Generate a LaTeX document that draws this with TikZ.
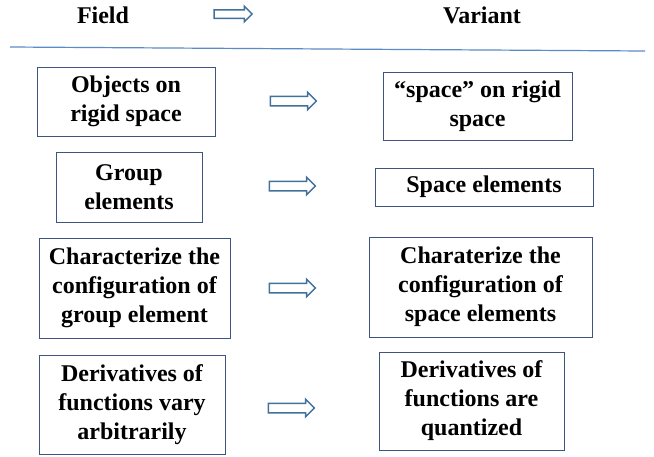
\documentclass[tikz,border=0pt]{standalone}
\usepackage{fontspec}
\setmainfont{Liberation Serif}
\usetikzlibrary{shapes.arrows}
\definecolor{boxline}{RGB}{63,84,128}
\definecolor{arrowline}{RGB}{65,113,156}
\definecolor{ruleline}{RGB}{91,139,197}
\tikzset{
    cell/.style={draw=boxline, line width=0.9pt, fill=white, align=center, inner sep=0pt,
        font=\fontsize{24}{29}\selectfont\bfseries},
    head/.style={font=\fontsize{24}{29}\selectfont\bfseries},
    fatarrow/.style={single arrow, draw=arrowline, line width=1.5pt, fill=white,
        inner sep=4pt, minimum height=46pt, single arrow head extend=4pt},
}

\begin{document}
\begin{tikzpicture}[x=1pt,y=-1pt]
        \useasboundingbox (0,0) rectangle (654,456);
        % header
        \node[head] (field) at (103,15) {Field};
        \node[fatarrow, inner sep=3.5pt, minimum height=38pt, single arrow head extend=3.5pt] (harrow) at (231,14) {};
        \node[head] (variant) at (482,15) {Variant};
        \coordinate (ruleL) at (10,47);
        \coordinate (ruleR) at (645,51);
        \draw[ruleline, line width=1.2pt] (ruleL) -- (ruleR);
        % left column
        \node[cell, minimum width=178pt, minimum height=69pt] (f1) at (126,101.5) {Objects on\\rigid space};
        \node[cell, minimum width=146pt, minimum height=70pt] (f2) at (129,187) {Group\\elements};
        \node[cell, minimum width=191pt, minimum height=100pt] (f3) at (134.5,288) {Characterize the\\configuration of\\group element};
        \node[cell, minimum width=186pt, minimum height=99pt] (f4) at (132,404.5) {Derivatives of\\functions vary\\arbitrarily};
        % right column
        \node[cell, minimum width=189pt, minimum height=68pt] (v1) at (477.5,106) {``space'' on rigid\\space};
        \node[cell, minimum width=218pt, minimum height=38pt] (v2) at (484,187) {Space elements};
        \node[cell, minimum width=223pt, minimum height=100pt] (v3) at (480.5,287) {Charaterize the\\configuration of\\space elements};
        \node[cell, minimum width=185pt, minimum height=98pt] (v4) at (471.5,401) {Derivatives of\\functions are\\quantized};
        % arrows between columns
        \node[fatarrow] (a1) at (291,101) {};
        \node[fatarrow] (a2) at (290,186) {};
        \node[fatarrow] (a3) at (290,288) {};
        \node[fatarrow] (a4) at (289,408) {};
    \end{tikzpicture}
\end{document}
